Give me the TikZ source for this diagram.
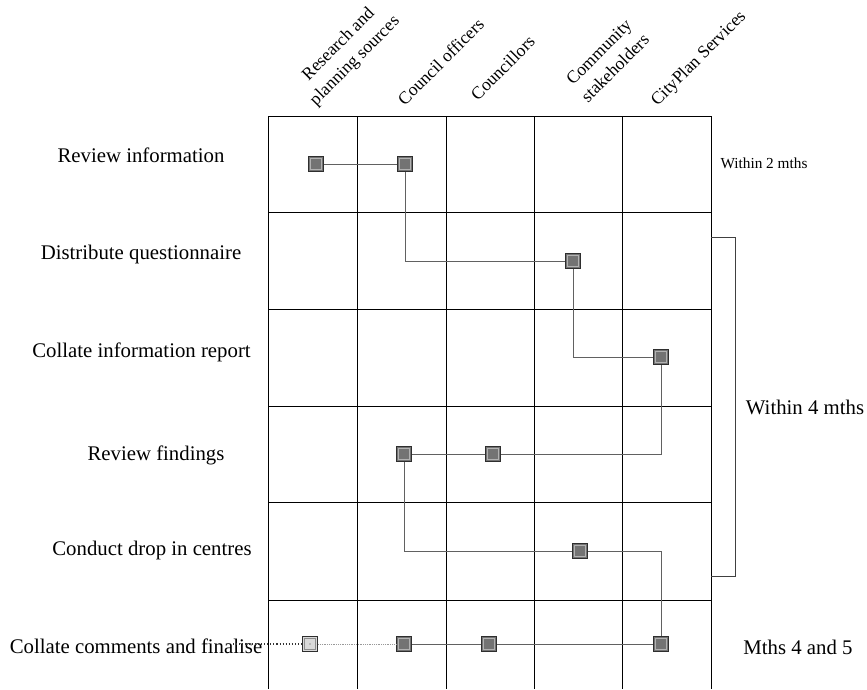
\documentclass[tikz,border=0pt]{standalone}
\usepackage{fontspec}
\setmainfont{Liberation Serif}
\tikzset{
  gridline/.style={black, line width=0.9pt},
  conn/.style={black!62, line width=0.9pt},
  mk/.style={rectangle, minimum size=15pt, inner sep=0pt, fill=black!55, draw=black!82, line width=1.2pt,
    path picture={\draw[black!30, line width=0.7pt]
      ([shift={(2.3pt,2.3pt)}]path picture bounding box.south west) rectangle
      ([shift={(-2.3pt,-2.3pt)}]path picture bounding box.north east);}},
  mklight/.style={mk, fill=black!15,
    path picture={\draw[black!45, line width=0.7pt]
      ([shift={(2.3pt,2.3pt)}]path picture bounding box.south west) rectangle
      ([shift={(-2.3pt,-2.3pt)}]path picture bounding box.north east);
      \fill[black!70] (path picture bounding box.center) circle (0.6pt);}},
  rowlab/.style={font=\fontsize{20.8}{25}\selectfont, anchor=base, inner sep=0pt},
  hdr/.style={font=\fontsize{17.6}{23}\selectfont, rotate=45, align=center, inner sep=0pt},
  smalllab/.style={font=\fontsize{15.3}{18}\selectfont, anchor=base, inner sep=0pt},
  bracketline/.style={black!75, line width=0.9pt},
}
\begin{document}
\begin{tikzpicture}[x=1pt, y=-1pt]
\useasboundingbox (0,0) rectangle (867,689);
% grid
\foreach \yy in {116,212,309,406,502,600} \draw[gridline] (268,\yy) -- (711,\yy);
\foreach \xx in {268,357,446,534,622,711} \draw[gridline] (\xx,116) -- (\xx,689);
% column headers
\node[hdr, anchor=center] (h1) at (347,53) {Research and\\planning sources};
\node[hdr, anchor=base] (h2) at (445,66) {Council officers};
\node[hdr, anchor=base] (h3) at (507,72) {Councillors};
\node[hdr, anchor=center] (h4) at (607,60) {Community\\stakeholders};
\node[hdr, anchor=base] (h5) at (702,62) {CityPlan Services};
% row labels
\node[rowlab] (r1) at (141,162) {Review information};
\node[rowlab] (r2) at (141,259) {Distribute questionnaire};
\node[rowlab] (r3) at (141.5,357) {Collate information report};
\node[rowlab] (r4) at (156,460) {Review findings};
\node[rowlab] (r5) at (152,555) {Conduct drop in centres};
\node[rowlab] (r6) at (136,653) {Collate comments and finalise};
% timing labels
\node[smalllab] (t1) at (764,168) {Within 2 mths};
\node[rowlab] (t2) at (805,414) {Within 4 mths};
\node[rowlab] (t3) at (798,654) {Mths 4 and 5};
% bracket
\draw[bracketline] (711,237) -- (735,237) -- (735,576) -- (711,576);
% markers
\node[mk] (m11) at (316,164) {};
\node[mk] (m12) at (405,164) {};
\node[mk] (m22) at (573,261) {};
\node[mk] (m33) at (661,357) {};
\node[mk] (m41) at (404,454) {};
\node[mk] (m42) at (493,454) {};
\node[mk] (m51) at (580,551) {};
\node[mklight] (m61) at (310,644) {};
\node[mk] (m62) at (404,644) {};
\node[mk] (m63) at (489,644) {};
\node[mk] (m64) at (661,644) {};
\coordinate (d0) at (233,644);
% connectors
\draw[conn] (m11) -- (m12);
\draw[conn] (m12) |- (m22);
\draw[conn] (m22) |- (m33);
\draw[conn] (m33) |- (m42);
\draw[conn] (m42) -- (m41);
\draw[conn] (m41) |- (m51);
\draw[conn] (m51) -| (m64);
\draw[conn] (m62) -- (m63);
\draw[conn] (m63) -- (m64);
\draw[black!80, line width=1.1pt, dotted] (d0) -- (m61);
\draw[black!40, line width=0.8pt, densely dotted] (m61) -- (m62);
\end{tikzpicture}
\end{document}
